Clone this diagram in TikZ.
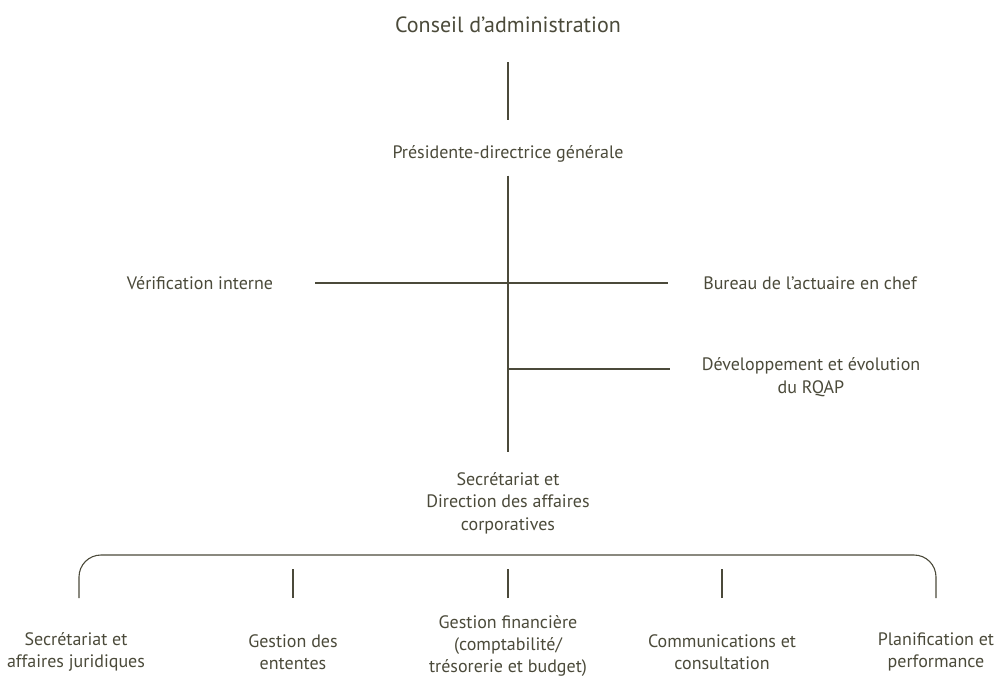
\documentclass[tikz,border=0pt]{standalone}
\usepackage{fontspec}
\setmainfont{PT Sans}
\definecolor{olivegris}{HTML}{4B4A3A}
\begin{document}
\begin{tikzpicture}[x=1pt,y=-1pt,
	every node/.style={text=olivegris,font=\fontsize{18}{22.5}\selectfont,align=center,inner sep=0pt},
	trait/.style={draw=olivegris,line width=1.4pt}]
	\useasboundingbox (0,0) rectangle (994,680);
	\node (conseil) at (508,25) [font=\fontsize{22}{26}\selectfont] {Conseil d’administration};
	\node (pdg) at (508,154) {Présidente-directrice générale};
	\node (verif) at (200,283) {Vérification interne};
	\node (bureau) at (810,283) {Bureau de l’actuaire en chef};
	\node (dev) at (811,377) {Développement et évolution\\du RQAP};
	\node (secdir) at (508,503) {Secrétariat et\\Direction des affaires\\corporatives};
	\node (secaj) at (76,652) {Secrétariat et\\affaires juridiques};
	\node (ent) at (293,652) {Gestion des\\ententes};
	\node (fin) at (508,646) [font=\fontsize{18}{22}\selectfont] {Gestion financière\\(comptabilité/\\trésorerie et budget)};
	\node (comm) at (722,652) {Communications et\\consultation};
	\node (plan) at (936,652) {Planification et\\performance};
	\coordinate (jdev) at (508,369);
	\coordinate (brk) at (508,555);
	\coordinate (tk) at (0,598);
	\draw[trait,shorten <=29pt,shorten >=25pt] (conseil) -- (pdg);
	\draw[trait,shorten <=13pt,shorten >=20pt] (pdg) -- (secdir);
	\draw[trait,shorten <=42pt,shorten >=35pt] (verif) -- (bureau);
	\draw[trait,shorten >=32pt] (jdev) -- (jdev -| dev.west);
	\draw[trait,line width=1.1pt,rounded corners=22pt] (tk -| 79,0) |- (brk) -| (tk -| plan);
	\foreach \n in {ent,fin,comm}
		\draw[trait] (tk -| \n) -- ++(0,-29);
\end{tikzpicture}
\end{document}
